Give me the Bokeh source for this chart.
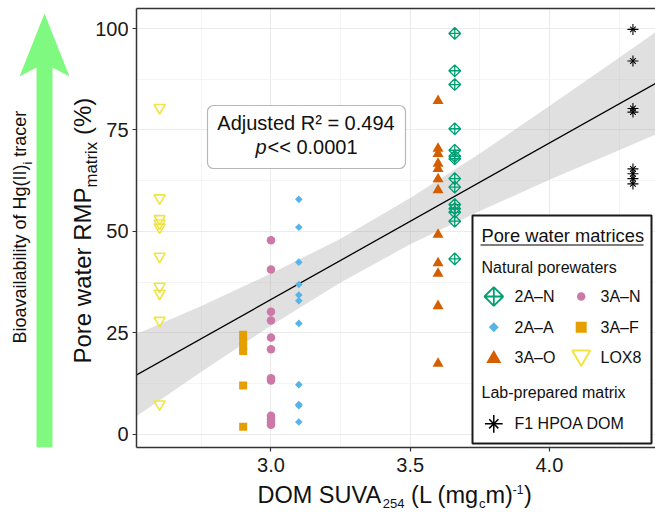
import numpy as np
from bokeh.plotting import figure
from bokeh.models import Range1d, FixedTicker, Label, BoxAnnotation, LinearAxis
from bokeh.layouts import row, column
from bokeh.embed import file_html
from bokeh.resources import INLINE

# ---------------- data ----------------
suva = {"LOX8": 2.6, "3A-F": 2.9, "3A-N": 3.0, "2A-A": 3.1, "3A-O": 3.6, "2A-N": 3.66, "F1": 4.3}
lox8_y = [80.5, 58.2, 53.1, 52.0, 51.0, 43.8, 36.4, 34.7, 28.0, 7.4]
f3a_y = [24.5, 23.0, 21.5, 20.5, 12.0, 1.8]
n3a_y = [47.8, 40.6, 30.2, 28.0, 23.8, 20.9, 13.8, 13.2, 4.5, 3.6, 2.9, 2.3]
a2a_y = [57.9, 51.0, 42.4, 36.9, 34.3, 32.9, 27.3, 12.2, 7.3, 7.0, 3.0]
o3a_y = [82.2, 70.4, 69.1, 66.7, 65.4, 62.9, 60.2, 49.2, 42.2, 39.6, 31.6, 17.4]
n2a_y = [98.8, 89.6, 86.2, 75.3, 70.0, 68.5, 67.9, 63.0, 60.9, 56.6, 55.6, 54.7, 52.5, 43.2]
f1_y = [99.8, 92.0, 80.3, 79.4, 65.4, 64.2, 63.0, 61.7]

fit_x = [2.5, 4.4]
fit_y = [13.9, 87.2]
band_x = [2.5, 2.75, 3.0, 3.25, 3.5, 3.75, 4.0, 4.25, 4.4]
band_lo = [3.6, 15.4, 26.8, 37.4, 46.8, 55.0, 62.7, 70.0, 74.4]
band_hi = [24.2, 31.6, 39.6, 48.2, 58.2, 69.2, 80.9, 92.8, 100.0]

x_ticks = [3.0, 3.5, 4.0]
x_minor = [2.75, 3.25, 3.75, 4.25]
x_labels = ["3.0", "3.5", "4.0"]
y_ticks = [0, 25, 50, 75, 100]
y_minor = [12.5, 37.5, 62.5, 87.5]
y_labels = ["0", "25", "50", "75", "100"]
X_LIM = (2.517, 4.381)
Y_LIM = (-3.3, 104.95)

# ---------------- colours / fonts ----------------
C_2AN, C_2AA, C_3AO = "#009E73", "#56B4E9", "#D55E00"
C_3AN, C_3AF, C_LOX = "#CC79A7", "#E69F00", "#F0E442"
FONT = "Liberation Sans"
TXT = "#111111"

# Arial/Liberation Sans advance widths (per 1000 em) for text composition
AW = {' ': 278, '(': 333, ')': 333, '-': 333, '%': 889, '<': 584, '.': 278, '=': 584,
      'A': 667, 'B': 667, 'D': 722, 'H': 722, 'I': 278, 'L': 556, 'M': 833, 'O': 778,
      'P': 667, 'R': 722, 'S': 667, 'U': 722, 'V': 667,
      'a': 556, 'b': 556, 'c': 500, 'd': 556, 'e': 556, 'f': 278, 'g': 556, 'i': 222,
      'j': 222, 'l': 222, 'm': 833, 'o': 556, 'p': 556, 'r': 333, 's': 500, 't': 278,
      'u': 556, 'v': 500, 'w': 722, 'x': 500, 'y': 500}
for d in "0123456789":
    AW[d] = 556


def tw(s, size):
    return sum(AW.get(ch, 556) for ch in s) * size / 1000.0


W, H = 655, 512
LEFT_W = 128               # left strip: arrow, y title, y tick labels
BOT_H = 30                 # bottom strip: x title
TOP_H = H - BOT_H
FL, FT, FB = 136, 8, 447   # frame left / top / bottom (page pixels)


def lbl(fig, x, y, s, size, **kw):
    opts = dict(text_font=FONT, text_font_size=f"{size}px", text_color=TXT,
                text_baseline="middle", text_align="left")
    opts.update(kw)
    fig.add_layout(Label(x=x, y=y, text=s, **opts))


def strip(width, height, xr, yr, **borders):
    f = figure(width=width, height=height, x_range=xr, y_range=yr, x_axis_type=None,
               y_axis_type=None, output_backend="svg", toolbar_location=None, **borders)
    f.outline_line_color = None
    f.background_fill_color = "white"
    f.border_fill_color = "white"
    return f


# ---------------- left strip ----------------
left = strip(LEFT_W, TOP_H, Range1d(0, LEFT_W), Range1d(FB, FT),
             min_border_left=0, min_border_right=0, min_border_top=FT, min_border_bottom=TOP_H - FB)
left.extra_y_ranges = {"val": Range1d(*Y_LIM)}
left.patch(x=[36, 52, 52, 69, 44, 19, 36], y=[447, 447, 67, 76, 13, 76, 67],
           fill_color="#80F980", line_color=None)

# bioavailability text (rotated)
b1, b3 = "Bioavailability of Hg(II)", "tracer"
bx, by, bs, bsub = 19, 343, 18, 12.5
lbl(left, bx, by, b1, bs, angle=np.pi / 2)
lbl(left, bx + 8, by - tw(b1, bs), "i", bsub, angle=np.pi / 2)
lbl(left, bx, by - tw(b1, bs) - tw("i", bsub) - tw(" ", bs), b3, bs, angle=np.pi / 2)

# y title: Pore water RMP_matrix (%)
ys, yc, ysub = 24, 82, 16.8
y0 = 363
yp1 = "Pore water RMP"
lbl(left, yc, y0, yp1, ys, angle=np.pi / 2)
lbl(left, yc + 9, y0 - tw(yp1, ys), "matrix", ysub, angle=np.pi / 2)
lbl(left, yc, y0 - tw(yp1, ys) - tw("matrix", ysub) - tw(" ", ys), "(%)", ys, angle=np.pi / 2)

# y tick labels, placed on the value scale shared with the panel
for v, s in zip(y_ticks, y_labels):
    lbl(left, 128, v, s, 20, text_align="right", text_color="#1a1a1a", y_range_name="val")

# ---------------- main panel ----------------
p = figure(width=W - LEFT_W, height=TOP_H, x_range=Range1d(*X_LIM), y_range=Range1d(*Y_LIM),
           output_backend="svg", toolbar_location=None,
           min_border_left=FL - LEFT_W, min_border_right=0, min_border_top=FT,
           min_border_bottom=TOP_H - FB)
p.extra_x_ranges = {"px": Range1d(FL, W)}
p.extra_y_ranges = {"py": Range1d(FB, FT)}
p.background_fill_color = "white"
p.border_fill_color = "white"
p.outline_line_color = None

p.xaxis.ticker = FixedTicker(ticks=x_ticks, minor_ticks=x_minor)
p.yaxis.ticker = FixedTicker(ticks=y_ticks, minor_ticks=y_minor)
p.xaxis.major_label_overrides = {t: l for t, l in zip(x_ticks, x_labels)}
p.yaxis.major_label_overrides = {t: "" for t in y_ticks}
for ax in (p.xaxis, p.yaxis):
    ax.axis_line_color = "#333333"
    ax.axis_line_width = 1.5
    ax.major_tick_line_color = "#333333"
    ax.major_tick_line_width = 1.2
    ax.major_tick_out = 4
    ax.major_tick_in = 0
    ax.minor_tick_line_color = None
    ax.minor_tick_out = 0
    ax.major_label_text_font = FONT
    ax.major_label_text_font_size = "20px"
    ax.major_label_text_color = "#1a1a1a"
p.xaxis.major_label_standoff = 6
p.yaxis.major_label_standoff = 0
p.yaxis.major_label_text_font_size = "0px"

# top border of the panel (no right border is visible in the reference)
top_ax = LinearAxis(ticker=FixedTicker(ticks=[]), axis_line_color="#333333", axis_line_width=1.5,
                    major_tick_line_color=None, minor_tick_line_color=None, major_tick_out=0,
                    major_tick_in=0, minor_tick_out=0, major_label_standoff=0,
                    major_label_text_font_size="0px")
p.add_layout(top_ax, "above")

for g in (p.xgrid, p.ygrid):
    g.grid_line_color = "#EBEBEB"
    g.grid_line_width = 1.1
    g.minor_grid_line_color = "#F2F2F2"
    g.minor_grid_line_width = 0.8

# regression band and line
p.varea(x=band_x, y1=band_lo, y2=band_hi, fill_color="#999999", fill_alpha=0.3)
p.line(fit_x, fit_y, line_color="black", line_width=1.3)

# data points
p.scatter([suva["LOX8"]] * len(lox8_y), lox8_y, marker="inverted_triangle", size=11,
          fill_color=None, line_color=C_LOX, line_width=1.6)
p.scatter([suva["3A-F"]] * len(f3a_y), f3a_y, marker="square", size=8,
          fill_color=C_3AF, line_color=None)
p.scatter([suva["3A-N"]] * len(n3a_y), n3a_y, marker="circle", size=8.5,
          fill_color=C_3AN, line_color=None)
p.scatter([suva["2A-A"]] * len(a2a_y), a2a_y, marker="square", size=5.4, angle=np.pi / 4,
          fill_color=C_2AA, line_color=None)
p.scatter([suva["3A-O"]] * len(o3a_y), o3a_y, marker="triangle", size=11,
          fill_color=C_3AO, line_color=None)
p.scatter([suva["2A-N"]] * len(n2a_y), n2a_y, marker="square_x", size=8.3, angle=np.pi / 4,
          fill_color=None, line_color=C_2AN, line_width=1.3)
p.scatter([suva["F1"]] * len(f1_y), f1_y, marker="cross", size=11,
          line_color="black", line_width=1.1)
p.scatter([suva["F1"]] * len(f1_y), f1_y, marker="x", size=8,
          line_color="black", line_width=1.1)

PX = dict(x_range_name="px", y_range_name="py")


def txt(x, y, s, size, **kw):
    lbl(p, x, y, s, size, **PX, **kw)


# ---- statistics box ----
p.add_layout(BoxAnnotation(left=207, right=405, top=105, bottom=168, fill_color="white",
                           fill_alpha=1.0, line_color="#111111", line_width=1.2,
                           border_radius=6, level="underlay", **PX))
txt(305.5, 122, "Adjusted R² = 0.494", 20, text_align="center")
s2 = "<< 0.0001"
x2 = 305.5 - (tw("p", 20) + tw(s2, 20)) / 2
txt(x2, 146.7, "p", 20, text_font_style="italic")
txt(x2 + tw("p", 20) + 1, 146.7, s2, 20)

# ---- legend (drawn by hand) ----
p.quad(left=[472], right=[651], top=[215], bottom=[443], fill_color="white",
       line_color="#1a1a1a", line_width=2, **PX)
txt(481, 235, "Pore water matrices", 18.3)
p.segment(x0=[480], x1=[643], y0=[244.5], y1=[244.5], line_color="#555555", line_width=1.6, **PX)
txt(481, 267, "Natural porewaters", 16)
txt(481, 391.7, "Lab-prepared matrix", 16)
c1m, c1t, c2m, c2t = 493.3, 514, 580.7, 600
rows = [296, 326.7, 356.7]
txt(c1t, rows[0], "2A–N", 16)
txt(c2t, rows[0], "3A–N", 16)
txt(c1t, rows[1], "2A–A", 16)
txt(c2t, rows[1], "3A–F", 16)
txt(c1t, rows[2], "3A–O", 16)
txt(c2t, rows[2], "LOX8", 16)
txt(c1t, 423.3, "F1 HPOA DOM", 16)
p.scatter([c1m], [rows[0]], marker="square_x", size=13.2, angle=np.pi / 4, fill_color=None,
          line_color=C_2AN, line_width=1.8, **PX)
p.scatter([c1m], [rows[1]], marker="square", size=7, angle=np.pi / 4, fill_color=C_2AA,
          line_color=None, **PX)
p.scatter([c1m], [rows[2] + 1.5], marker="triangle", size=15, fill_color=C_3AO,
          line_color=None, **PX)
p.scatter([c2m], [rows[0]], marker="circle", size=8.5, fill_color=C_3AN, line_color=None, **PX)
p.scatter([c2m], [rows[1]], marker="square", size=11, fill_color=C_3AF, line_color=None, **PX)
p.scatter([c2m], [rows[2] - 1.5], marker="inverted_triangle", size=18, fill_color=None,
          line_color=C_LOX, line_width=2, **PX)
p.scatter([c1m], [423.3], marker="cross", size=17.7, line_color="black", line_width=1.5, **PX)
p.scatter([c1m], [423.3], marker="x", size=13, line_color="black", line_width=1.5, **PX)

# ---------------- bottom strip: x title ----------------
bottom = strip(W, BOT_H, Range1d(FL, W), Range1d(H, TOP_H),
               min_border_left=FL, min_border_right=0, min_border_top=0, min_border_bottom=0)
xs, xc, ss, sup = 23.5, 494, 13, 12
x_parts = [("DOM SUVA", xs, 0, 0), ("254", ss, 9, 0), ("(L (mg", xs, 0, tw(" ", xs)),
           ("c", ss, 9, 0), ("m)", xs, 0, 0), ("-1", sup, -5, 0), (")", xs, 0, 0.5)]
xx = 257
for s, sz, dy, gap in x_parts:
    xx += gap
    lbl(bottom, xx, xc + dy, s, sz)
    xx += tw(s, sz)

layout = column(row(left, p), bottom)
open("out.html", "w").write(file_html(layout, INLINE))
